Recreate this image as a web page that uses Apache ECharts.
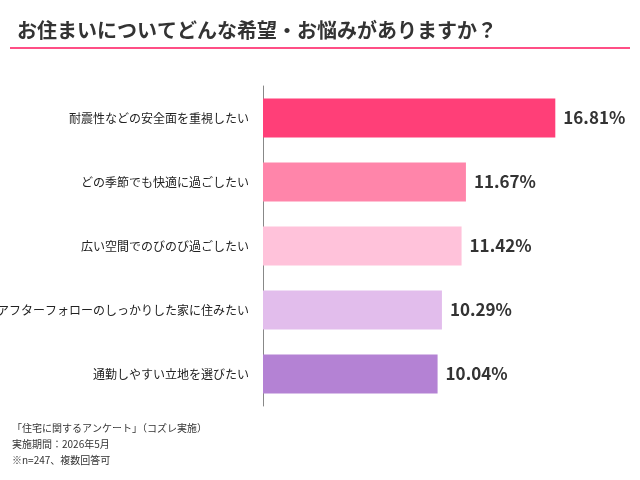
<!DOCTYPE html>
<html>
<head>
<meta charset="utf-8">
<script src="https://cdn.jsdelivr.net/npm/echarts@6/dist/echarts.min.js"></script>
<style>body{margin:0;background:#fff}#chart{width:640px;height:480px}</style>
</head>
<body>
<div id="chart"></div>
<script>
var categories = ['耐震性などの安全面を重視したい', 'どの季節でも快適に過ごしたい', '広い空間でのびのび過ごしたい', 'アフターフォローのしっかりした家に住みたい', '通勤しやすい立地を選びたい'];
var values = [16.81, 11.67, 11.42, 10.29, 10.04];
var barColors = ['#ff3f78', '#ff85aa', '#ffc2da', '#e2bdec', '#b482d4'];
var notes = ['「住宅に関するアンケート」（コズレ実施）', '実施期間：2026年5月', '※n=247、複数回答可'];

var chart = echarts.init(document.getElementById('chart'));
var font = '"Noto Sans CJK JP", sans-serif';
chart.setOption({
    textStyle: { fontFamily: font },
    title: {
        text: 'お住まいについてどんな希望・お悩みがありますか？',
        left: 12, top: 15,
        textStyle: { fontSize: 20, fontWeight: 'bold', color: '#333', fontFamily: font }
    },
    graphic: [
        { type: 'rect', shape: { x: 10, y: 47, width: 620, height: 2 }, style: { fill: '#ff4f86' } },
        {
            type: 'text', left: 12, top: 420,
            style: { text: notes.join('\n'), fontSize: 10, lineHeight: 16, fill: '#333', fontFamily: font }
        }
    ],
    grid: { left: 263, top: 86, width: 313, height: 320, outerBoundsMode: 'none', containLabel: false },
    xAxis: { type: 'value', min: 0, max: 18, show: false },
    yAxis: {
        type: 'category', data: categories, inverse: true,
        axisLine: { lineStyle: { color: '#888', width: 1 } },
        axisTick: { show: false },
        axisLabel: { fontSize: 12, color: '#222', margin: 14, fontFamily: font }
    },
    series: [{
        type: 'bar', barWidth: 39,
        data: values.map(function (v, i) { return { value: v, itemStyle: { color: barColors[i] } }; }),
        label: {
            show: true, position: 'right', distance: 8,
            formatter: function (p) { return p.value.toFixed(2) + '%'; },
            fontSize: 17, fontWeight: 'bold', color: '#333', fontFamily: font
        }
    }]
});
</script>
</body>
</html>
